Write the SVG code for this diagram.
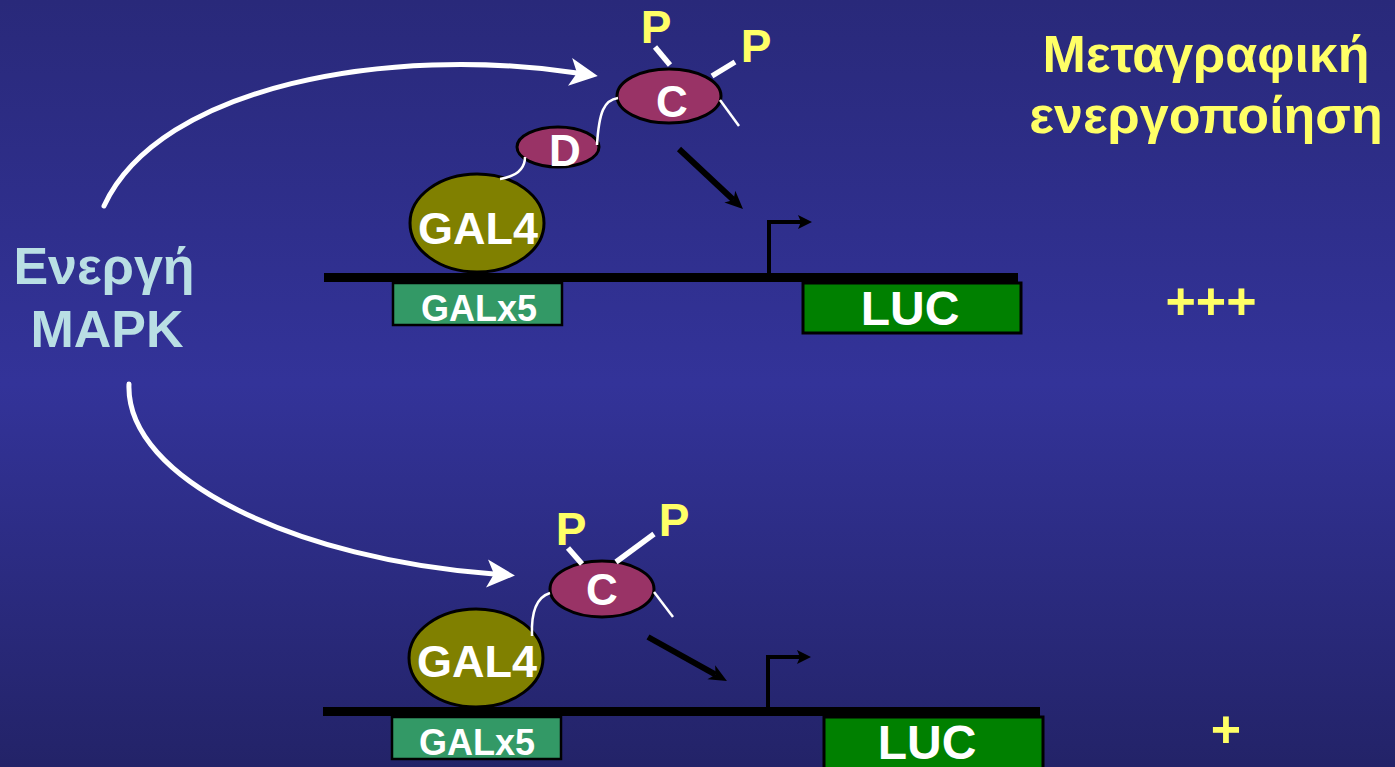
<svg xmlns="http://www.w3.org/2000/svg" width="1395" height="767" viewBox="0 0 1395 767">
  <defs>
    <linearGradient id="bg" x1="0" y1="0" x2="0" y2="1">
      <stop offset="0" stop-color="#29297a"/>
      <stop offset="0.5" stop-color="#333399"/>
      <stop offset="1" stop-color="#232368"/>
    </linearGradient>
    <marker id="whiteHead" viewBox="-1 -15 30 30" refX="7" refY="0" markerWidth="30" markerHeight="30" markerUnits="userSpaceOnUse" orient="auto">
      <path d="M0,-14 L28,0 L0,14 L7,0 z" fill="#ffffff"/>
    </marker>
    <marker id="blackHead" viewBox="-1 -10 20 20" refX="5" refY="0" markerWidth="20" markerHeight="20" markerUnits="userSpaceOnUse" orient="auto">
      <path d="M0,-8 L18,0 L0,8 L5,0 z" fill="#000000"/>
    </marker>
    <marker id="startHead" viewBox="-1 -8 16 16" refX="3" refY="0" markerWidth="16" markerHeight="16" markerUnits="userSpaceOnUse" orient="auto">
      <path d="M0,-7 L14,0 L0,7 L3,0 z" fill="#000000"/>
    </marker>
  </defs>
  <style>
    .lbl { font-family: "Liberation Sans", Arial, sans-serif; font-weight: bold; text-anchor: middle; }
    .white { fill: #ffffff; }
    .yellow { fill: #ffff66; }
    .gal4 { fill: #808000; stroke: #000000; stroke-width: 3; }
    .dom { fill: #993366; stroke: #000000; stroke-width: 3; }
    .galx5 { fill: #339966; stroke: #000000; stroke-width: 2.5; }
    .luc { fill: #008000; stroke: #000000; stroke-width: 3; }
    .dna { fill: #000000; }
    .curve { fill: none; stroke: #ffffff; stroke-width: 5; stroke-linecap: round; }
    .linker { fill: none; stroke: #ffffff; stroke-width: 2.5; }
    .pbond { stroke: #ffffff; stroke-width: 5.5; }
    .push { fill: none; stroke: #000000; stroke-width: 6; }
    .tss { fill: none; stroke: #000000; stroke-width: 4; stroke-linejoin: miter; }
  </style>

  <rect id="background" x="0" y="0" width="1395" height="767" fill="url(#bg)"/>

  <!-- left label -->
  <g id="mapk">
    <text class="lbl" x="104" y="284" font-size="52" fill="#b9dfe4">Ενεργή</text>
    <text class="lbl" x="107" y="347" font-size="52" fill="#b9dfe4">MAPK</text>
  </g>

  <!-- right title -->
  <g id="title">
    <text class="lbl yellow" x="1206" y="72" font-size="52">Μεταγραφική</text>
    <text class="lbl yellow" x="1206" y="133" font-size="52">ενεργοποίηση</text>
  </g>

  <!-- activity readouts -->
  <g id="level-high"><text class="lbl yellow" x="1211" y="319" font-size="52">+++</text></g>
  <g id="level-low"><text class="lbl yellow" x="1226" y="747" font-size="52">+</text></g>

  <!-- upper construct: GAL4-D-C fusion -->
  <g id="dna-top"><rect class="dna" x="324" y="273" width="694" height="9"/></g>
  <g id="galx5-top">
    <rect class="galx5" x="393" y="283" width="169" height="42"/>
    <text class="lbl white" x="479" y="321" font-size="36">GALx5</text>
  </g>
  <g id="luc-top">
    <rect class="luc" x="803" y="283" width="218" height="50"/>
    <text class="lbl white" x="910" y="325" font-size="48">LUC</text>
  </g>
  <g id="gal4-top">
    <ellipse class="gal4" cx="477" cy="223" rx="67" ry="49"/>
    <text class="lbl white" x="478" y="244" font-size="45">GAL4</text>
  </g>
  <g id="d-top">
    <ellipse class="dom" cx="558" cy="147" rx="41" ry="20"/>
    <text class="lbl white" x="565" y="166" font-size="44">D</text>
  </g>
  <g id="c-top">
    <ellipse class="dom" cx="669" cy="96" rx="52" ry="27"/>
    <text class="lbl white" x="672" y="117" font-size="44">C</text>
  </g>
  <g id="p1-top"><text class="lbl yellow" x="656" y="43" font-size="46">P</text></g>
  <g id="p2-top"><text class="lbl yellow" x="756" y="62" font-size="46">P</text></g>

  <!-- lower construct: GAL4-C fusion -->
  <g id="dna-bottom"><rect class="dna" x="323" y="707" width="717" height="9"/></g>
  <g id="galx5-bottom">
    <rect class="galx5" x="392" y="717" width="169" height="42"/>
    <text class="lbl white" x="477" y="755" font-size="36">GALx5</text>
  </g>
  <g id="luc-bottom">
    <rect class="luc" x="824" y="717" width="219" height="56"/>
    <text class="lbl white" x="927" y="759" font-size="48">LUC</text>
  </g>
  <g id="gal4-bottom">
    <ellipse class="gal4" cx="476" cy="658" rx="67" ry="49"/>
    <text class="lbl white" x="477" y="677" font-size="45">GAL4</text>
  </g>
  <g id="c-bottom">
    <ellipse class="dom" cx="602" cy="589" rx="52" ry="28"/>
    <text class="lbl white" x="602" y="605" font-size="44">C</text>
  </g>
  <g id="p1-bottom"><text class="lbl yellow" x="571" y="545" font-size="46">P</text></g>
  <g id="p2-bottom"><text class="lbl yellow" x="674" y="536" font-size="46">P</text></g>

  <!-- connectors -->
  <g id="connectors">
    <!-- MAPK signalling arcs -->
    <path class="curve" d="M104,206 C160,85 390,45 577,73" marker-end="url(#whiteHead)"/>
    <path class="curve" d="M129,384 C125,480 300,560 494,574" marker-end="url(#whiteHead)"/>

    <!-- linkers between domains -->
    <path class="linker" d="M500,179 C518,176 525,168 525,157"/>
    <path class="linker" d="M597,145 C599,112 604,100 618,98"/>
    <path class="linker" d="M532,636 C531,612 537,597 550,593"/>

    <!-- phosphate bonds and free tails -->
    <line class="pbond" x1="655" y1="47" x2="670" y2="65"/>
    <line class="pbond" x1="712" y1="76" x2="735" y2="62"/>
    <line class="linker" x1="720" y1="100" x2="739" y2="126"/>
    <line class="pbond" x1="568" y1="548" x2="582" y2="564"/>
    <line class="pbond" x1="616" y1="562" x2="654" y2="534"/>
    <line class="linker" x1="654" y1="592" x2="673" y2="617"/>

    <!-- activation arrows towards the promoter -->
    <path class="push" d="M679,149 L733.5,200" marker-end="url(#blackHead)"/>
    <path class="push" d="M648,637 L715.6,674.7" marker-end="url(#blackHead)"/>

    <!-- transcription start sites -->
    <path class="tss" d="M769,276 V222 H801" marker-end="url(#startHead)"/>
    <path class="tss" d="M768,710 V657 H800" marker-end="url(#startHead)"/>
  </g>
</svg>
